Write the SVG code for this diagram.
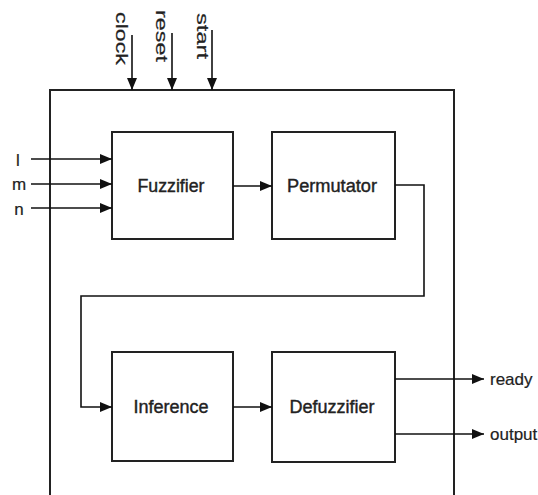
<svg xmlns="http://www.w3.org/2000/svg" width="538" height="495" viewBox="0 0 538 495">
<defs>
<marker id="arr" viewBox="0 0 12 10" refX="12" refY="5" markerWidth="12" markerHeight="10" markerUnits="userSpaceOnUse" orient="auto">
<path d="M0,0 L12,5 L0,10 Z" fill="#111"/>
</marker>
<style>
.box{fill:#fff;stroke:#222;stroke-width:2}
.ln{fill:none;stroke:#111;stroke-width:1.6}
.lbl{font-family:"Liberation Sans",Arial,sans-serif;font-size:18px;fill:#222;stroke:#222;stroke-width:0.4;text-anchor:middle}
.io{font-family:"Liberation Sans",Arial,sans-serif;font-size:17px;fill:#222;stroke:#222;stroke-width:0.2}
</style>
</defs>
<rect width="538" height="495" fill="#fff"/>
<g id="system">
<path d="M50,495 L50,90 L454,90 L454,495" fill="none" stroke="#222" stroke-width="2"/>
</g>
<g id="fuzzifier">
<rect class="box" x="112" y="132" width="121" height="107"/>
<text class="lbl" x="171" y="192" textLength="67" lengthAdjust="spacingAndGlyphs">Fuzzifier</text>
</g>
<g id="permutator">
<rect class="box" x="272" y="132" width="123" height="107"/>
<text class="lbl" x="332" y="192" textLength="90" lengthAdjust="spacingAndGlyphs">Permutator</text>
</g>
<g id="inference">
<rect class="box" x="112" y="352" width="121" height="109"/>
<text class="lbl" x="171" y="413">Inference</text>
</g>
<g id="defuzzifier">
<rect class="box" x="272" y="352" width="123" height="110"/>
<text class="lbl" x="332" y="413">Defuzzifier</text>
</g>
<g id="labels">
<text class="io" x="116" y="12" transform="rotate(90 116 12)" textLength="53" lengthAdjust="spacingAndGlyphs" font-size="15">clock</text>
<text class="io" x="156" y="10" transform="rotate(90 156 10)" textLength="52" lengthAdjust="spacingAndGlyphs" font-size="15">reset</text>
<text class="io" x="197" y="13" transform="rotate(90 197 13)" textLength="46" lengthAdjust="spacingAndGlyphs" font-size="15">start</text>
<text class="io" x="18" y="166" text-anchor="middle">l</text>
<text class="io" x="19" y="190" text-anchor="middle">m</text>
<text class="io" x="19" y="215" text-anchor="middle">n</text>
<text class="io" x="490" y="385">ready</text>
<text class="io" x="490" y="440">output</text>
</g>
<g id="connectors">
<line class="ln" x1="132" y1="35" x2="132" y2="90" marker-end="url(#arr)"/>
<line class="ln" x1="172" y1="33" x2="172" y2="90" marker-end="url(#arr)"/>
<line class="ln" x1="212" y1="30" x2="212" y2="90" marker-end="url(#arr)"/>
<line class="ln" x1="31" y1="159" x2="112" y2="159" marker-end="url(#arr)"/>
<line class="ln" x1="31" y1="184" x2="112" y2="184" marker-end="url(#arr)"/>
<line class="ln" x1="31" y1="208" x2="112" y2="208" marker-end="url(#arr)"/>
<line class="ln" x1="233" y1="186" x2="272" y2="186" marker-end="url(#arr)"/>
<path class="ln" d="M395,185 L424,185 L424,296 L81,296 L81,407 L112,407" marker-end="url(#arr)"/>
<line class="ln" x1="233" y1="407" x2="272" y2="407" marker-end="url(#arr)"/>
<line class="ln" x1="395" y1="379" x2="484" y2="379" marker-end="url(#arr)"/>
<line class="ln" x1="395" y1="434" x2="484" y2="434" marker-end="url(#arr)"/>
</g>
</svg>
